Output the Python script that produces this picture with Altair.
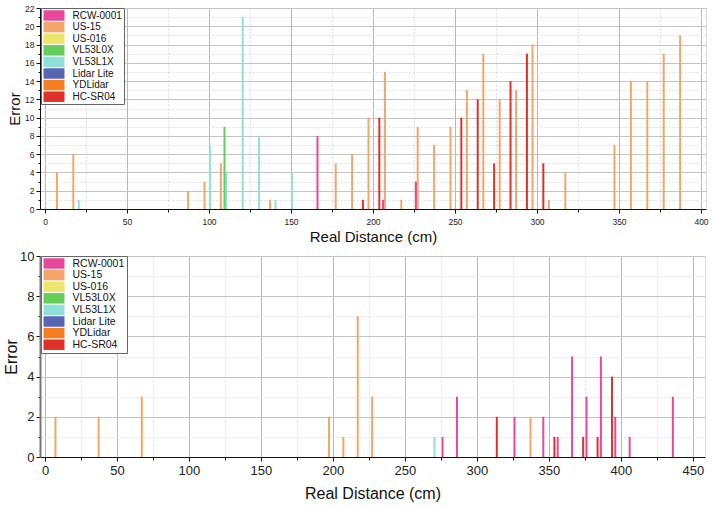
import json
import altair as alt
import pandas as pd

# ---- series definitions ----
series_names = ["RCW-0001", "US-15", "US-016", "VL53L0X", "VL53L1X",
                "Lidar Lite", "YDLidar", "HC-SR04"]
series_colors = ["#E8489A", "#F4A66A", "#EDE56A", "#66CC5A", "#8EE0D8",
                 "#5566B5", "#F57F20", "#E0302A"]

# ---- top panel data ----
top_us15_dist = [10, 20, 90, 100, 110, 140, 180, 190, 200, 210, 220, 230, 240, 250,
                 260, 270, 280, 290, 300, 310, 320, 350, 360, 370, 380, 390]
top_us15_err = [4, 6, 2, 3, 5, 1, 5, 6, 10, 15, 1, 9, 7, 9,
                13, 17, 12, 13, 18, 1, 4, 7, 14, 14, 17, 19]
top_l1x_dist = [20, 100, 110, 120, 130, 140, 150]
top_l1x_err = [1, 7, 4, 21, 8, 1, 4]
top_l0x_dist = [110]
top_l0x_err = [9]
top_rcw_dist = [170, 210, 230]
top_rcw_err = [8, 1, 3]
top_hc_dist = [190, 200, 250, 260, 270, 280, 290, 300]
top_hc_err = [1, 10, 10, 12, 5, 14, 17, 5]

# ---- bottom panel data ----
bot_us15_dist = [10, 40, 70, 200, 210, 220, 230, 340]
bot_us15_err = [2, 2, 3, 2, 1, 7, 3, 2]
bot_l1x_dist = [270]
bot_l1x_err = [1]
bot_rcw_dist = [280, 290, 330, 350, 360, 370, 380, 390, 400, 410, 440]
bot_rcw_err = [1, 3, 2, 2, 1, 5, 3, 5, 2, 1, 3]
bot_hc_dist = [310, 350, 370, 380, 390]
bot_hc_err = [2, 1, 1, 1, 4]


def frame(parts):
    rows = []
    for name, dists, errs in parts:
        for d, e in zip(dists, errs):
            rows.append({"sensor": name, "distance": d, "error": e})
    return pd.DataFrame(rows)


top_df = frame([
    ("US-15", top_us15_dist, top_us15_err),
    ("VL53L1X", top_l1x_dist, top_l1x_err),
    ("VL53L0X", top_l0x_dist, top_l0x_err),
    ("RCW-0001", top_rcw_dist, top_rcw_err),
    ("HC-SR04", top_hc_dist, top_hc_err),
])
bot_df = frame([
    ("US-15", bot_us15_dist, bot_us15_err),
    ("VL53L1X", bot_l1x_dist, bot_l1x_err),
    ("RCW-0001", bot_rcw_dist, bot_rcw_err),
    ("HC-SR04", bot_hc_dist, bot_hc_err),
])

FONT = "Liberation Sans"
offset_expr = "datum.distance + (indexof(%s, datum.sensor) - 3.5) * 1.1" % json.dumps(series_names)


def panel(df, xmax, xlast, ymax, width, height, tick_fs, title_fs, legend_fs,
          left_color, left_width, x_label_pad, x_title_pad, y_title_pad):
    x_vals = list(range(0, xlast + 1, 25))
    y_vals = list(range(0, ymax + 1))
    return alt.Chart(df).transform_calculate(
        xpos=offset_expr
    ).mark_bar(size=2).encode(
        x=alt.X("xpos:Q", title="Real Distance (cm)",
                scale=alt.Scale(domain=[0, xmax], nice=False, zero=True),
                axis=alt.Axis(values=x_vals,
                              labelExpr="datum.value % 50 == 0 ? datum.label : ''",
                              gridDash=alt.condition("datum.value % 50 == 0", alt.value([]), alt.value([2, 2])),
                              gridColor=alt.condition("datum.value % 50 == 0", alt.value("#b8b8b8"), alt.value("#dddddd")),
                              tickSize=alt.condition("datum.value % 50 == 0", alt.value(4), alt.value(3)),
                              labelFontSize=tick_fs, titleFontSize=title_fs,
                              labelFont=FONT, titleFont=FONT, titleFontWeight="normal",
                              labelColor="#222", titleColor="#111",
                              domainColor="#111", tickColor="#111",
                              labelPadding=x_label_pad, titlePadding=x_title_pad)),
        y=alt.Y("error:Q", title="Error",
                scale=alt.Scale(domain=[0, ymax], nice=False),
                axis=alt.Axis(values=y_vals,
                              labelExpr="datum.value % 2 == 0 ? datum.label : ''",
                              gridDash=alt.condition("datum.value % 2 == 0", alt.value([]), alt.value([2, 2])),
                              gridColor=alt.condition("datum.value % 2 == 0", alt.value("#c4c4c4"), alt.value("#dddddd")),
                              tickSize=alt.condition("datum.value % 2 == 0", alt.value(4), alt.value(2)),
                              labelFontSize=tick_fs, titleFontSize=title_fs,
                              labelFont=FONT, titleFont=FONT, titleFontWeight="normal",
                              labelColor="#222", titleColor="#111",
                              domainColor=left_color, domainWidth=left_width, tickColor="#111",
                              labelPadding=2, titlePadding=y_title_pad)),
        color=alt.Color("sensor:N",
                        scale=alt.Scale(domain=series_names, range=series_colors),
                        legend=alt.Legend(orient="none", legendX=1, legendY=0, title=None,
                                          symbolType="M-2,-1H2V1H-2Z", symbolSize=110,
                                          symbolOffset=5.5,
                                          symbolStrokeWidth=0, symbolOpacity=1,
                                          labelFontSize=legend_fs, labelFont=FONT, labelColor="#111",
                                          rowPadding=0.6, padding=2, labelOffset=13,
                                          strokeColor="#666", fillColor="white")),
    ).properties(width=width, height=height)


top = panel(top_df, 400, 400, 22, 666, 201, 8.5, 15, 10, "#111", 1, 4, 4, 2)
bottom = panel(bot_df, 455, 450, 10, 665, 201, 13, 16, 10.5, "#777", 2, 3, 8, 0)

chart = alt.vconcat(top, bottom, spacing=4).resolve_scale(
    color="independent"
).properties(
    padding={"left": 3, "top": 3, "right": 2, "bottom": 2}
).configure_view(
    stroke="#222", strokeWidth=1
).configure(background="white")

chart.save("out.html", embed_options={"renderer": "svg", "actions": False})
